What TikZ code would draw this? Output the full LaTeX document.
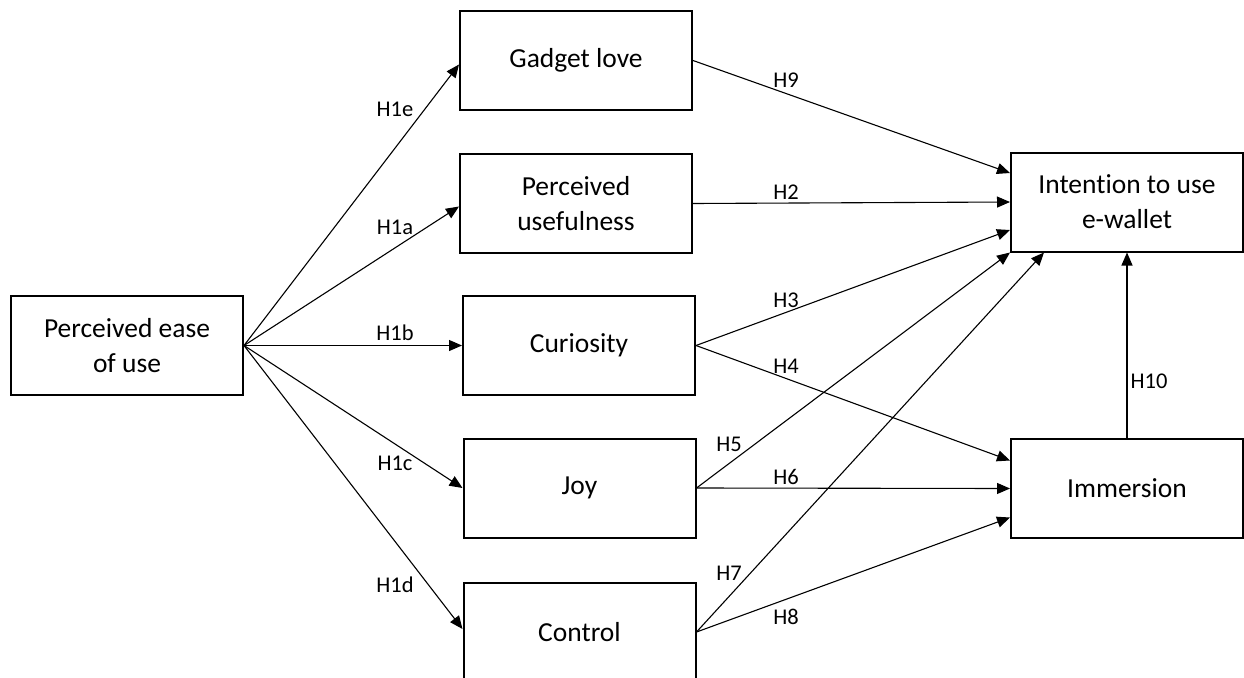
\documentclass[tikz,border=0pt]{standalone}
\usepackage{fontspec}
\setmainfont{Carlito}[Ligatures=NoCommon]
\usepackage{tikz}
\usetikzlibrary{arrows.meta}

\begin{document}
\begin{tikzpicture}[x=1pt,y=-1pt,
    box/.style={draw,line width=2pt,minimum width=232pt,minimum height=99pt,
      align=center,font=\fontsize{27.5}{35}\selectfont},
    hyp/.style={inner sep=0pt,font=\fontsize{22.5}{27}\selectfont},
    path/.style={-{Triangle[length=13pt,width=11pt]},line width=1.1pt}]
  \useasboundingbox (0,0) rectangle (1244,677);
  % constructs
  \node[box] (peou) at (127,345.5) {Perceived ease\\of use};
  \node[box] (gadget) at (576,60.5) {Gadget love};
  \node[box] (useful) at (576,203.5) {Perceived\\usefulness};
  \node[box] (curio) at (579,345.5) {Curiosity};
  \node[box] (joy) at (579.5,488) {Joy};
  \node[box] (ctrl) at (579.5,632) {Control};
  \node[box] (intent) at (1127,202) {Intention to use\\e-wallet};
  \node[box] (immer) at (1127,488.5) {Immersion};
  % paths from perceived ease of use
  \draw[path] (peou.east) -- ([yshift=-4pt]gadget.west);
  \draw[path] (peou.east) -- ([yshift=-3pt]useful.west);
  \draw[path] (peou.east) -- (curio.west);
  \draw[path] (peou.east) -- (joy.west);
  \draw[path] (peou.east) -- ([yshift=3pt]ctrl.west);
  % paths to intention and immersion
  \draw[path] (gadget.east) -- ([yshift=29pt]intent.west);
  \draw[path] (useful.east) -- (intent.west);
  \draw[path] (curio.east) -- ([yshift=-28pt]intent.west);
  \draw[path] (curio.east) -- ([yshift=28pt]immer.west);
  \draw[path] (joy.east) -- (intent.south west);
  \draw[path] (joy.east) -- (immer.west);
  \draw[path] (ctrl.east) -- ([xshift=34pt]intent.south west);
  \draw[path] (ctrl.east) -- ([yshift=-29pt]immer.west);
  \draw[path] (immer.north) -- (intent.south);
  % hypothesis labels
  \node[hyp] (h1e) at (395,109) {H1e};
  \node[hyp] (h1a) at (395,227) {H1a};
  \node[hyp] (h1b) at (395,333) {H1b};
  \node[hyp] (h1c) at (395,463) {H1c};
  \node[hyp] (h1d) at (395,585) {H1d};
  \node[hyp] (h9) at (786,80) {H9};
  \node[hyp] (h2) at (786,192) {H2};
  \node[hyp] (h3) at (786,300) {H3};
  \node[hyp] (h4) at (786,366) {H4};
  \node[hyp] (h5) at (729,444) {H5};
  \node[hyp] (h6) at (786,477) {H6};
  \node[hyp] (h7) at (729,573) {H7};
  \node[hyp] (h8) at (786,617) {H8};
  \node[hyp] (h10) at (1149,381) {H10};
\end{tikzpicture}
\end{document}
